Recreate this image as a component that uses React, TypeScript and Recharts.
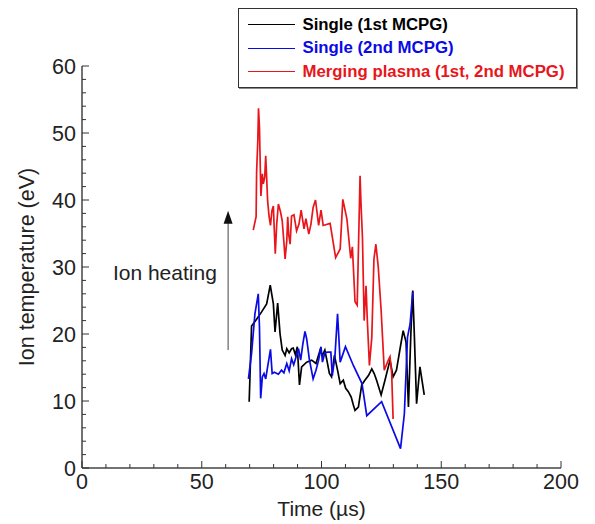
import React from 'react';
import { LineChart, Line, XAxis, YAxis, Legend, ReferenceLine, ReferenceDot } from 'recharts';

// ---- Data (time in µs, ion temperature in eV) ----
const blackTime = [69.8, 70.8, 72.9, 75.0, 77.1, 78.6, 79.9, 80.6, 81.7, 82.7, 83.6, 84.8, 85.5, 86.5, 87.5, 88.2, 89.1, 89.9, 90.8, 91.7, 93.8, 95.9, 97.7, 99.4, 100.4, 101.4, 102.4, 103.3, 104.2, 105.4, 106.7, 107.8, 109.1, 110.1, 111.2, 112.4, 113.3, 114.0, 115.4, 116.8, 118.1, 119.6, 121.0, 122.0, 123.0, 124.9, 126.5, 128.6, 129.9, 131.3, 132.8, 134.1, 135.3, 136.3, 137.3, 138.1, 138.7, 139.7, 141.1, 142.9];
const blackTemp = [9.9, 21.2, 22.2, 23.3, 24.5, 27.3, 24.5, 20.3, 24.6, 20.0, 17.6, 16.8, 17.8, 17.2, 17.8, 17.9, 16.9, 18.1, 12.4, 15.1, 15.8, 16.1, 15.6, 17.6, 16.8, 17.6, 15.8, 14.1, 13.6, 16.8, 14.6, 12.6, 13.1, 11.9, 11.4, 10.6, 9.4, 8.6, 9.1, 12.4, 13.1, 13.8, 14.8, 14.1, 13.1, 10.9, 13.1, 16.1, 13.6, 14.6, 17.8, 20.5, 18.8, 9.1, 20.0, 26.5, 20.5, 9.6, 15.1, 10.9];

const blueTime = [69.5, 70.8, 72.2, 73.6, 74.1, 74.6, 75.3, 76.0, 76.7, 77.5, 78.7, 79.4, 80.3, 82.0, 83.3, 84.3, 85.5, 86.5, 87.5, 88.4, 89.4, 90.4, 91.3, 92.2, 93.1, 93.8, 94.9, 96.5, 97.7, 98.8, 99.8, 100.4, 101.4, 102.6, 103.9, 104.5, 105.6, 106.7, 107.8, 110.0, 113.3, 116.9, 118.9, 125.1, 133.0, 134.6, 135.9, 137.0, 138.1];
const blueTemp = [13.3, 17.1, 23.0, 26.0, 21.0, 10.4, 13.6, 14.1, 13.3, 15.1, 17.7, 14.1, 14.3, 14.0, 14.6, 14.2, 15.6, 14.5, 16.3, 15.4, 16.6, 17.8, 16.1, 18.5, 20.4, 19.3, 16.3, 13.3, 14.6, 16.1, 18.1, 15.8, 17.2, 17.3, 17.3, 13.8, 16.6, 23.0, 15.8, 18.1, 15.3, 12.6, 7.8, 9.9, 2.9, 8.1, 19.5, 21.5, 26.3];

const redTime = [71.5, 72.7, 72.9, 73.4, 73.7, 74.1, 74.3, 74.7, 75.3, 75.7, 76.3, 76.7, 77.1, 77.5, 78.1, 78.7, 79.3, 79.9, 80.3, 80.7, 81.3, 82.0, 82.9, 83.6, 84.3, 84.8, 85.5, 85.9, 86.3, 86.9, 87.5, 88.5, 89.6, 90.6, 91.5, 92.7, 93.5, 94.7, 95.6, 96.5, 97.5, 98.8, 99.8, 100.7, 103.6, 105.9, 107.8, 108.9, 110.6, 112.2, 112.9, 114.0, 114.9, 116.1, 116.5, 117.1, 117.8, 118.6, 119.1, 120.0, 121.0, 121.9, 122.7, 123.7, 124.9, 126.2, 127.9, 128.6, 129.3, 129.9];
const redTemp = [35.5, 37.5, 44.1, 48.8, 53.7, 50.8, 47.3, 40.6, 43.9, 42.4, 43.4, 46.6, 43.4, 39.9, 37.6, 36.2, 38.4, 39.1, 35.4, 32.0, 36.4, 39.4, 38.2, 36.9, 33.7, 31.2, 33.9, 37.5, 34.9, 33.4, 37.6, 37.8, 35.4, 36.4, 38.5, 35.7, 37.2, 34.9, 36.4, 38.9, 40.0, 36.2, 38.5, 36.2, 36.5, 31.4, 32.7, 40.1, 37.2, 31.3, 33.0, 24.8, 24.3, 43.6, 39.4, 34.4, 22.0, 27.2, 22.3, 15.3, 19.5, 31.2, 33.4, 30.0, 23.5, 14.6, 16.1, 16.6, 14.1, 7.3];

const seriesNames = ['Single (1st MCPG)', 'Single (2nd MCPG)', 'Merging plasma (1st, 2nd MCPG)'];
const seriesColors = ['#000000', '#0a0ae6', '#e8161b'];

const xTicks = [0, 10, 20, 30, 40, 50, 60, 70, 80, 90, 100, 110, 120, 130, 140, 150, 160, 170, 180, 190, 200];
const yTicks = [0, 2, 4, 6, 8, 10, 12, 14, 16, 18, 20, 22, 24, 26, 28, 30, 32, 34, 36, 38, 40, 42, 44, 46, 48, 50, 52, 54, 56, 58, 60];

const arrowX = 61.0;
const arrowBase = 17.6;
const arrowTip = 38.4;
const annotationX = 12.9;
const annotationY = 29.2;
const annotationText = 'Ion heating';

const zip = (t: number[], v: number[]) => t.map((tt, i) => ({ t: tt, v: v[i] }));
const blackData = zip(blackTime, blackTemp);
const blueData = zip(blueTime, blueTemp);
const redData = zip(redTime, redTemp);

const FONT = '"Liberation Sans", Arial, sans-serif';
const TICK_COLOR = '#333';
const AXIS_COLOR = '#444';
const TICK_FONT = 21.5;

function BottomTick(props: any) {
  const { x, y, payload } = props;
  const v = payload.value;
  const major = v % 50 === 0;
  return (
    <g>
      <line x1={x} x2={x} y1={y} y2={y - (major ? 7 : 4)} stroke={TICK_COLOR} strokeWidth={1} />
      {major && (
        <text x={x} y={y + 6} dy="0.72em" textAnchor="middle" fontSize={TICK_FONT} fontFamily={FONT} fill="#222">
          {v}
        </text>
      )}
    </g>
  );
}

function TopTick(props: any) {
  const { x, y, payload } = props;
  const major = payload.value % 50 === 0;
  return <line x1={x} x2={x} y1={y} y2={y + (major ? 6 : 4)} stroke={TICK_COLOR} strokeWidth={1} />;
}

function LeftTick(props: any) {
  const { x, y, payload } = props;
  const v = payload.value;
  const major = v % 10 === 0;
  return (
    <g>
      <line x1={x} x2={x + (major ? 7 : 4)} y1={y} y2={y} stroke={TICK_COLOR} strokeWidth={1} />
      {major && (
        <text x={x - 6} y={y} dy="0.36em" textAnchor="end" fontSize={TICK_FONT} fontFamily={FONT} fill="#222">
          {v}
        </text>
      )}
    </g>
  );
}

function RightTick(props: any) {
  const { x, y, payload } = props;
  const major = payload.value % 10 === 0;
  return <line x1={x} x2={x - (major ? 7 : 4)} y1={y} y2={y} stroke={TICK_COLOR} strokeWidth={1} />;
}

function YTitle(props: any) {
  const vb = props.viewBox || {};
  const cx = 27;
  const cy = vb.y + vb.height / 2;
  return (
    <text x={cx} y={cy} transform={`rotate(-90 ${cx} ${cy})`} textAnchor="middle" dominantBaseline="central" fontSize={21.5} fontFamily={FONT} fill="#222">
      Ion temperature (eV)
    </text>
  );
}

function XTitle(props: any) {
  const vb = props.viewBox || {};
  const cx = vb.x + vb.width / 2;
  return (
    <text x={cx} y={vb.y + 40} dy="0.36em" textAnchor="middle" fontSize={21} fontFamily={FONT} fill="#222">
      Time (µs)
    </text>
  );
}

function LegendBox(props: any) {
  const payload = [...(props.payload || [])].sort(
    (a: any, b: any) => seriesNames.indexOf(a.value) - seriesNames.indexOf(b.value)
  );
  return (
    <div
      style={{
        width: 339,
        height: 80,
        boxSizing: 'border-box',
        border: '1.5px solid #333',
        boxShadow: '1px 1px 0 #888',
        background: '#fff',
        paddingTop: 4,
        fontFamily: FONT,
      }}
    >
      {payload.map((p: any, i: number) => (
        <div key={i} style={{ display: 'flex', alignItems: 'center', height: 23.5 }}>
          <div style={{ marginLeft: 8.5, width: 47, borderTop: `1.5px solid ${p.color}` }} />
          <span style={{ marginLeft: 8, fontWeight: 'bold', fontSize: 16.8, color: p.color, whiteSpace: 'nowrap' }}>{p.value}</span>
        </div>
      ))}
    </div>
  );
}

function ArrowHead(props: any) {
  const { cx, cy } = props;
  return <path d={`M${cx},${cy} L${cx - 4.5},${cy + 13} L${cx + 4.5},${cy + 13} Z`} fill="#111" />;
}

function AnnotationText(props: any) {
  const { cx, cy } = props;
  return (
    <text x={cx} y={cy} dy="0.36em" textAnchor="start" fontSize={21} fontFamily={FONT} fill="#222">
      {annotationText}
    </text>
  );
}

export default function App() {
  return (
    <div style={{ position: 'absolute', left: 0, top: 0, width: 595, height: 524 }}>
      <LineChart width={595} height={524} margin={{ top: 66, right: 34, bottom: 6, left: 12 }}>
        <XAxis
          dataKey="t"
          type="number"
          domain={[0, 200]}
          ticks={xTicks}
          interval={0}
          allowDataOverflow
          height={50}
          tickSize={0}
          tickMargin={0}
          tickLine={false}
          tick={<BottomTick />}
          axisLine={{ stroke: AXIS_COLOR, strokeWidth: 1.5 }}
          label={<XTitle />}
        />
        <XAxis
          xAxisId="top"
          orientation="top"
          type="number"
          domain={[0, 200]}
          ticks={xTicks}
          interval={0}
          allowDataOverflow
          height={0}
          tickSize={0}
          tickMargin={0}
          tickLine={false}
          tick={<TopTick />}
          axisLine={{ stroke: AXIS_COLOR, strokeWidth: 1.5 }}
        />
        <YAxis
          type="number"
          domain={[0, 60]}
          ticks={yTicks}
          interval={0}
          allowDataOverflow
          width={70}
          tickSize={0}
          tickMargin={0}
          tickLine={false}
          tick={<LeftTick />}
          axisLine={{ stroke: AXIS_COLOR, strokeWidth: 1.5 }}
          label={<YTitle />}
        />
        <YAxis
          yAxisId="r"
          orientation="right"
          type="number"
          domain={[0, 60]}
          ticks={yTicks}
          interval={0}
          allowDataOverflow
          width={0}
          tickSize={0}
          tickMargin={0}
          tickLine={false}
          tick={<RightTick />}
          axisLine={{ stroke: AXIS_COLOR, strokeWidth: 1.5 }}
        />
        <ReferenceLine
          segment={[{ x: arrowX, y: arrowBase }, { x: arrowX, y: arrowTip - 1 }]}
          stroke="#444"
          strokeWidth={1}
        />
        <ReferenceDot x={arrowX} y={arrowTip} r={0} shape={<ArrowHead />} />
        <ReferenceDot x={annotationX} y={annotationY} r={0} shape={<AnnotationText />} />
        <Line data={blackData} dataKey="v" name={seriesNames[0]} stroke={seriesColors[0]} strokeWidth={1.7} dot={false} isAnimationActive={false} />
        <Line data={blueData} dataKey="v" name={seriesNames[1]} stroke={seriesColors[1]} strokeWidth={1.7} dot={false} isAnimationActive={false} />
        <Line data={redData} dataKey="v" name={seriesNames[2]} stroke={seriesColors[2]} strokeWidth={1.7} dot={false} isAnimationActive={false} />
        <Legend
          layout="vertical"
          align="center"
          verticalAlign="middle"
          content={<LegendBox />}
          wrapperStyle={{ left: 238, top: 8, width: 339, height: 80, right: 'auto', bottom: 'auto' }}
        />
      </LineChart>
    </div>
  );
}
